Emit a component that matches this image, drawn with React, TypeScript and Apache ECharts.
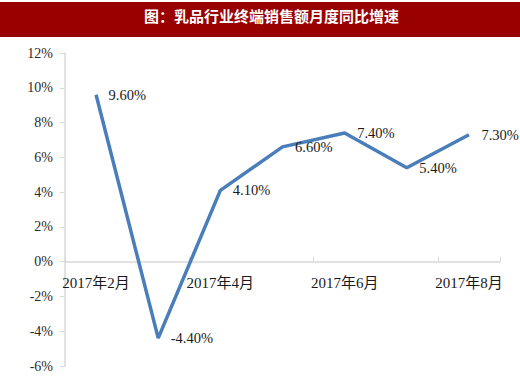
import React, { useEffect, useRef } from "react";
import * as echarts from "echarts";

const categories = ["2017年2月", "2017年3月", "2017年4月", "2017年5月", "2017年6月", "2017年7月", "2017年8月"];
const growth = [9.6, -4.4, 4.1, 6.6, 7.4, 5.4, 7.3];
const titleText = "图：乳品行业终端销售额月度同比增速";

const serif = "'Liberation Serif', 'Noto Sans CJK SC', serif";

export default function App() {
  const ref = useRef<HTMLDivElement>(null);
  useEffect(() => {
    if (!ref.current) return;
    const chart = echarts.init(ref.current, undefined, { renderer: "svg" });
    const top = 53;
    const bottom = 14;
    const plotH = 380 - top - bottom;
    const zeroOffset = -(plotH * 6) / 18;
    chart.setOption({
      animation: false,
      backgroundColor: "#ffffff",
      graphic: [
        { type: "rect", shape: { x: 0, y: 2, width: 520, height: 35 }, style: { fill: "#990000" } },
        {
          type: "text",
          x: 144,
          y: 15,
          style: {
            text: titleText,
            fill: "#ffffff",
            font: "bold 15px 'Noto Sans CJK SC'",
            textVerticalAlign: "middle",
          },
        },
      ],
      grid: { left: 65, right: 20, top, bottom },
      xAxis: {
        type: "category",
        data: categories,
        boundaryGap: true,
        position: "bottom",
        offset: zeroOffset,
        axisLine: { onZero: false, lineStyle: { color: "#d9d9d9", width: 1.5 } },
        axisTick: { show: true, inside: true, length: 5, interval: 1, lineStyle: { color: "#d9d9d9" } },
        axisLabel: {
          interval: 1,
          margin: 14,
          color: "#1a1a1a",
          fontSize: 15,
          fontFamily: serif,
        },
      },
      yAxis: {
        type: "value",
        min: -6,
        max: 12,
        interval: 2,
        splitLine: { show: false },
        axisLine: { show: true, lineStyle: { color: "#d9d9d9", width: 1.5 } },
        axisTick: { show: true, length: 5, lineStyle: { color: "#d9d9d9" } },
        axisLabel: {
          formatter: (v: number) => v + "%",
          color: "#2a2a2a",
          fontSize: 14,
          fontFamily: serif,
          margin: 12,
        },
      },
      series: [
        {
          type: "line",
          data: growth,
          symbol: "circle",
          symbolSize: 1,
          showSymbol: true,
          itemStyle: { color: "rgba(0,0,0,0)" },
          lineStyle: { color: "#4a7ebb", width: 3.5 },
          label: {
            show: true,
            position: "right",
            distance: 12,
            formatter: (p: any) => p.value.toFixed(2) + "%",
            color: "#1a1a1a",
            fontSize: 14.5,
            fontFamily: serif,
          },
        },
      ],
    });
    return () => chart.dispose();
  }, []);
  return (
    <div
      ref={ref}
      style={{ position: "fixed", left: 0, top: 0, width: 520, height: 380, background: "#fff" }}
    />
  );
}
